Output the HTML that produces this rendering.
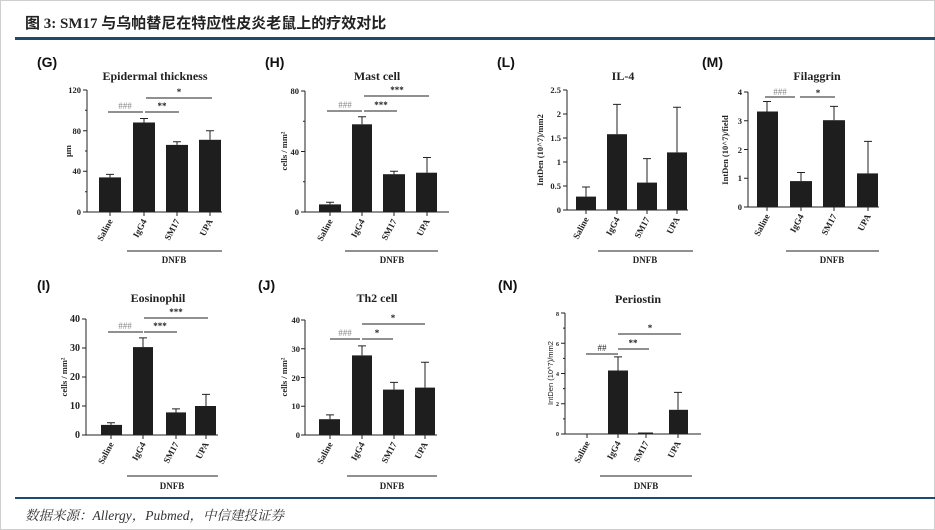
<!DOCTYPE html>
<html><head><meta charset="utf-8"><style>
html,body{margin:0;padding:0;background:#fff}
svg{display:block}
.t{font-family:"Liberation Serif","Noto Serif CJK SC",serif;font-weight:bold;fill:#222}
.p{font-family:"Liberation Sans",sans-serif;font-weight:bold;fill:#111}
.tk{font-family:"Liberation Serif",serif;font-weight:bold;font-size:8.5px;fill:#222}
.xl{font-family:"Liberation Serif",serif;font-weight:bold;font-size:9px;fill:#222}
.st{font-family:"Liberation Serif",serif;font-weight:bold;font-size:9px;fill:#222}
.hs{font-family:"Liberation Serif",serif;font-size:9px;fill:#888}
</style></head><body>
<svg width="935" height="530" viewBox="0 0 935 530" xmlns="http://www.w3.org/2000/svg">
<rect x="0.5" y="0.5" width="934" height="529" fill="#fff" stroke="#cfcfcf"/>
<text x="25" y="28" font-size="15" class="t" style="font-family:'Liberation Serif','Noto Sans CJK SC',sans-serif">图 3: SM17 与乌帕替尼在特应性皮炎老鼠上的疗效对比</text>
<rect x="15" y="37" width="920" height="3" fill="#1f4a6e"/>
<rect x="15" y="497" width="920" height="2" fill="#1f4a6e"/>
<text x="25" y="520" font-size="13.5" font-style="italic" fill="#333" style="font-family:'Liberation Serif','Noto Serif CJK SC',serif">数据来源：Allergy，Pubmed，中信建投证券</text>

<g stroke="#222" stroke-width="1" fill="none">
<!-- G -->
<path d="M87 90V212H222M83 212H87M83 171.3H87M83 130.7H87M83 90H87M85 191.7H87M85 151H87M85 110.3H87M110 212v4M144 212v4M177 212v4M210 212v4"/>
<path d="M110 177.4V174.4M106 174.4h8M144 122.5V118.5M140 118.5h8M177 144.9V141.8M173 141.8h8M210 139.8V130.7M206 130.7h8"/>
<path d="M108 112H143M145 112H179M146 98H212M127 251H222"/>
<!-- H -->
<path d="M305 91V212H449M301 212H305M301 151.5H305M301 91H305M303 181.75H305M303 121.25H305M330 212v4M362 212v4M394 212v4M427 212v4"/>
<path d="M330 204.4V202.2M326 202.2h8M362 124.3V116.7M358 116.7h8M394 174.2V171.2M390 171.2h8M427 172.7V157.5M423 157.5h8"/>
<path d="M327 111H362M364 111H397M364 96H429M345 251H438"/>
<!-- L -->
<path d="M567 90V210H688M563 210H567M563 186H567M563 162H567M563 138H567M563 114H567M563 90H567M586 210v4M617 210v4M647 210v4M677 210v4"/>
<path d="M586 196.6V187M582 187h8M617 134.2V104.4M613 104.4h8M647 182.6V158.6M643 158.6h8M677 152.4V107.3M673 107.3h8"/>
<path d="M598 251H693"/>
<!-- M -->
<path d="M748 92V207H879M744 207H748M744 178.25H748M744 149.5H748M744 120.75H748M744 92H748M767 207v4M801 207v4M834 207v4M868 207v4"/>
<path d="M767 111.5V101.5M763 101.5h8M801 181.1V172.5M797 172.5h8M834 120.2V106.4M830 106.4h8M868 173.4V141.4M864 141.4h8"/>
<path d="M765 97H795M800 97H835M786 251H879"/>
<!-- I -->
<path d="M86 319V435H218M82 435H86M82 406H86M82 377H86M82 348H86M82 319H86M111 435v4M143 435v4M176 435v4M206 435v4"/>
<path d="M111 424.9V422.8M107 422.8h8M143 347.1V337.9M139 337.9h8M176 412.4V408.9M172 408.9h8M206 406V394.4M202 394.4h8"/>
<path d="M108 332H143M144 332H177M144 318H208M127 476H218"/>
<!-- J -->
<path d="M305 320V435H437M301 435H305M301 406.25H305M301 377.5H305M301 348.75H305M301 320H305M330 435v4M362 435v4M394 435v4M425 435v4"/>
<path d="M330 419.2V414.9M326 414.9h8M362 355.4V345.9M358 345.9h8M394 389.6V382.4M390 382.4h8M425 387.6V362.3M421 362.3h8"/>
<path d="M330 339H360M362 339H393M362 324H425M347 476H437"/>
<!-- N -->
<path d="M565 313V434H701M561 434H565M561 403.75H565M561 373.5H565M561 343.25H565M561 313H565M563 418.9H565M563 388.6H565M563 358.4H565M563 328.1H565M587 434v4M618 434v4M646 434v4M678 434v4"/>
<path d="M618 370.5V356.9M614 356.9h8M678 409.8V392.4M674 392.4h8"/>
<path d="M586 354H618M618 349H649M618 334H681M600 476H692"/>
</g>

<g fill="#1e1e1e">
<rect x="99" y="177.4" width="22" height="34.6"/><rect x="133" y="122.5" width="22" height="89.5"/><rect x="166" y="144.9" width="22" height="67.1"/><rect x="199" y="139.8" width="22" height="72.2"/>
<rect x="319" y="204.4" width="22" height="7.6"/><rect x="352" y="124.3" width="20" height="87.7"/><rect x="383" y="174.2" width="22" height="37.8"/><rect x="416" y="172.7" width="21" height="39.3"/>
<rect x="576" y="196.6" width="20" height="13.4"/><rect x="607" y="134.2" width="20" height="75.8"/><rect x="637" y="182.6" width="20" height="27.4"/><rect x="667" y="152.4" width="20" height="57.6"/>
<rect x="757" y="111.5" width="21" height="95.5"/><rect x="790" y="181.1" width="22" height="25.9"/><rect x="823" y="120.2" width="22" height="86.8"/><rect x="857" y="173.4" width="21" height="33.6"/>
<rect x="101" y="424.9" width="21" height="10.1"/><rect x="133" y="347.1" width="20" height="87.9"/><rect x="166" y="412.4" width="20" height="22.6"/><rect x="195" y="406" width="21" height="29"/>
<rect x="319" y="419.2" width="21" height="15.8"/><rect x="352" y="355.4" width="20" height="79.6"/><rect x="383" y="389.6" width="21" height="45.4"/><rect x="415" y="387.6" width="20" height="47.4"/>
<rect x="608" y="370.5" width="20" height="63.5"/><rect x="638" y="432.5" width="15" height="1.5"/><rect x="669" y="409.8" width="19" height="24.2"/>
</g>

<g class="p" font-size="14">
<text x="37" y="67">(G)</text><text x="265" y="67">(H)</text><text x="497" y="67">(L)</text><text x="702" y="67">(M)</text>
<text x="37" y="290">(I)</text><text x="258" y="290">(J)</text><text x="498" y="290">(N)</text>
</g>
<g class="t" font-size="12" text-anchor="middle">
<text x="155" y="80">Epidermal thickness</text><text x="377" y="80">Mast cell</text><text x="623" y="80">IL-4</text><text x="817" y="80">Filaggrin</text>
<text x="158" y="302">Eosinophil</text><text x="377" y="302">Th2 cell</text><text x="638" y="303">Periostin</text>
</g>
<g class="tk" text-anchor="end">
<text x="81" y="215">0</text><text x="81" y="174">40</text><text x="81" y="134">80</text><text x="81" y="93">120</text>
<text x="299" y="215">0</text><text x="299" y="155">40</text><text x="299" y="94">80</text>
<text x="561" y="213">0</text><text x="561" y="189">0.5</text><text x="561" y="165">1</text><text x="561" y="141">1.5</text><text x="561" y="117">2</text><text x="561" y="93">2.5</text>
<text x="742" y="210">0</text><text x="742" y="181">1</text><text x="742" y="153">2</text><text x="742" y="124">3</text><text x="742" y="95">4</text>
<text x="80" y="438" font-size="10">0</text><text x="80" y="409" font-size="10">10</text><text x="80" y="380" font-size="10">20</text><text x="80" y="351" font-size="10">30</text><text x="80" y="322" font-size="10">40</text>
<text x="300" y="438">0</text><text x="300" y="409">10</text><text x="300" y="381">20</text><text x="300" y="352">30</text><text x="300" y="323">40</text>
<text x="559" y="436" font-size="6">0</text><text x="559" y="406" font-size="6">2</text><text x="559" y="376" font-size="6">4</text><text x="559" y="346" font-size="6">6</text><text x="559" y="316" font-size="6">8</text>
</g>
<g class="tk" text-anchor="middle" font-size="9">
<text transform="translate(71,151) rotate(-90)">μm</text>
<text transform="translate(287,151) rotate(-90)">cells / mm²</text>
<text transform="translate(543,150) rotate(-90)">IntDen (10^7)/mm2</text>
<text transform="translate(728,150) rotate(-90)">IntDen (10^7)/field</text>
<text transform="translate(67,377) rotate(-90)">cells / mm²</text>
<text transform="translate(287,377) rotate(-90)">cells / mm²</text>
<text transform="translate(553,373) rotate(-90)" style="font-family:'Liberation Sans',sans-serif;font-weight:normal" font-size="7.5">IntDen (10^7)/mm2</text>
</g>
<g class="xl" text-anchor="end">
<text transform="translate(113,221) rotate(-62)">Saline</text><text transform="translate(147,221) rotate(-62)">IgG4</text><text transform="translate(180,221) rotate(-62)">SM17</text><text transform="translate(213,221) rotate(-62)">UPA</text>
<text transform="translate(333,221) rotate(-62)">Saline</text><text transform="translate(365,221) rotate(-62)">IgG4</text><text transform="translate(397,221) rotate(-62)">SM17</text><text transform="translate(430,221) rotate(-62)">UPA</text>
<text transform="translate(589,219) rotate(-62)">Saline</text><text transform="translate(620,219) rotate(-62)">IgG4</text><text transform="translate(650,219) rotate(-62)">SM17</text><text transform="translate(680,219) rotate(-62)">UPA</text>
<text transform="translate(770,216) rotate(-62)">Saline</text><text transform="translate(804,216) rotate(-62)">IgG4</text><text transform="translate(837,216) rotate(-62)">SM17</text><text transform="translate(871,216) rotate(-62)">UPA</text>
<text transform="translate(114,444) rotate(-62)">Saline</text><text transform="translate(146,444) rotate(-62)">IgG4</text><text transform="translate(179,444) rotate(-62)">SM17</text><text transform="translate(209,444) rotate(-62)">UPA</text>
<text transform="translate(333,444) rotate(-62)">Saline</text><text transform="translate(365,444) rotate(-62)">IgG4</text><text transform="translate(397,444) rotate(-62)">SM17</text><text transform="translate(428,444) rotate(-62)">UPA</text>
<text transform="translate(590,443) rotate(-62)">Saline</text><text transform="translate(621,443) rotate(-62)">IgG4</text><text transform="translate(649,443) rotate(-62)">SM17</text><text transform="translate(681,443) rotate(-62)">UPA</text>
</g>
<g class="xl" text-anchor="middle">
<text x="174" y="263">DNFB</text><text x="392" y="263">DNFB</text><text x="645" y="263">DNFB</text><text x="832" y="263">DNFB</text>
<text x="172" y="489">DNFB</text><text x="392" y="489">DNFB</text><text x="646" y="489">DNFB</text>
</g>
<g text-anchor="middle">
<text class="hs" x="125" y="109">###</text><text class="st" x="162" y="109">**</text><text class="st" x="179" y="95">*</text>
<text class="hs" x="345" y="108">###</text><text class="st" x="381" y="108">***</text><text class="st" x="397" y="93">***</text>
<text class="hs" x="780" y="95">###</text><text class="st" x="818" y="96">*</text>
<text class="hs" x="125" y="329">###</text><text class="st" x="160" y="329">***</text><text class="st" x="176" y="315">***</text>
<text class="hs" x="345" y="336">###</text><text class="st" x="377" y="336">*</text><text class="st" x="393" y="321">*</text>
<text class="st" x="602" y="351" style="font-weight:normal">##</text><text class="st" x="633" y="346">**</text><text class="st" x="650" y="331">*</text>
</g>
</svg>
</body></html>
